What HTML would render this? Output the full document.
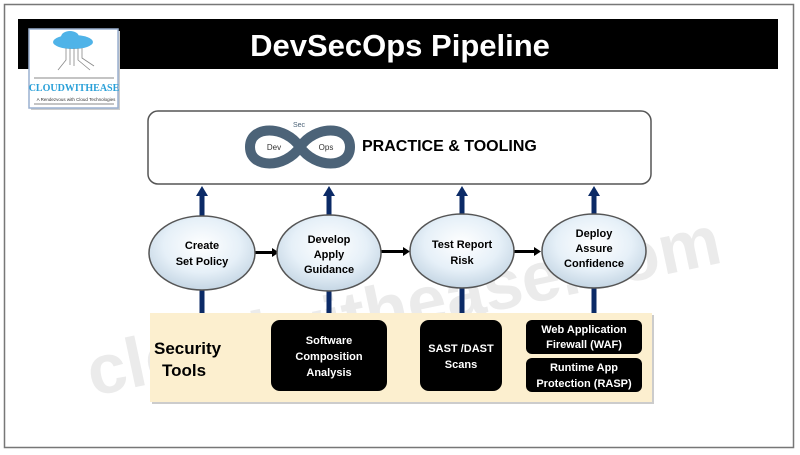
<!DOCTYPE html>
<html><head><meta charset="utf-8"><style>
html,body{margin:0;padding:0;background:#fff;}
svg{display:block;font-family:"Liberation Sans",sans-serif;}
</style></head><body>
<svg width="800" height="455" viewBox="0 0 800 455" xmlns="http://www.w3.org/2000/svg">
<defs>
<radialGradient id="eg" cx="50%" cy="40%" r="60%">
<stop offset="0" stop-color="#ffffff"/><stop offset="0.6" stop-color="#e6f0f8"/><stop offset="1" stop-color="#c5d6e4"/>
</radialGradient>
</defs>
<rect x="4.5" y="4.5" width="789" height="443" fill="#fff" stroke="#777" stroke-width="1.5"/>
<rect x="18" y="19" width="760" height="50" fill="#000"/>
<text x="400" y="56" text-anchor="middle" font-size="31" font-weight="bold" fill="#fff">DevSecOps Pipeline</text>
<!-- logo -->
<rect x="31" y="31" width="89" height="79" fill="#ccc"/>
<rect x="29" y="29" width="89" height="79" fill="#fff" stroke="#9ab0d0" stroke-width="1.5"/>
<ellipse cx="73" cy="42" rx="20" ry="7" fill="#4fb3e8"/>
<ellipse cx="70" cy="37" rx="9" ry="6" fill="#4fb3e8"/>
<g stroke="#888" stroke-width="0.8" fill="none">
<path d="M66 48 L66 60 L58 70 M70 48 L70 65 M74 48 L74 66 M78 48 L78 60 L90 70 M82 48 L82 58 L94 66"/>
</g>
<line x1="34" y1="78" x2="114" y2="78" stroke="#888"/>
<text x="74" y="91" text-anchor="middle" font-size="10" font-weight="bold" fill="#2aa0d8" font-family="Liberation Serif,serif">CLOUDWITHEASE</text>
<text x="76" y="101" text-anchor="middle" font-size="4.5" fill="#333">A Rendezvous with Cloud Technologies</text>
<line x1="34" y1="104" x2="114" y2="104" stroke="#888"/>
<!-- watermark -->
<text x="400" y="330" text-anchor="middle" font-size="70" font-weight="bold" fill="#ebebeb" transform="rotate(-12 400 290)">cloudwithease.com</text>
<!-- practice box -->
<rect x="148" y="111" width="503" height="73" rx="10" fill="#fff" stroke="#555" stroke-width="1.5"/>
<g fill="none" stroke="#4c6378" stroke-width="10">
<path d="M300 147 C285 125 250 125 250 147 C250 169 285 169 300 147 C315 125 350 125 350 147 C350 169 315 169 300 147"/>
</g>
<ellipse cx="274" cy="147" rx="14" ry="9" fill="#fff"/>
<ellipse cx="326" cy="147" rx="14" ry="9" fill="#fff"/>
<text x="274" y="150" text-anchor="middle" font-size="8" fill="#333">Dev</text>
<text x="326" y="150" text-anchor="middle" font-size="8" fill="#333">Ops</text>
<text x="299" y="127" text-anchor="middle" font-size="7" fill="#4c6378">Sec</text>
<text x="362" y="151" font-size="16" font-weight="bold" fill="#000">PRACTICE &amp; TOOLING</text>
<!-- band -->
<rect x="152" y="315" width="502" height="89" fill="#ccc"/>
<rect x="150" y="313" width="502" height="89" fill="#fcefcf"/>
<text x="154" y="354" font-size="17" font-weight="bold">Security</text>
<text x="162" y="376" font-size="17" font-weight="bold">Tools</text>
<!-- vertical arrows -->
<g fill="#0b2a66">
<rect x="199.5" y="195" width="5" height="118"/><polygon points="196,196 208,196 202,186"/>
<rect x="326.5" y="195" width="5" height="118"/><polygon points="323,196 335,196 329,186"/>
<rect x="459.5" y="195" width="5" height="118"/><polygon points="456,196 468,196 462,186"/>
<rect x="591.5" y="195" width="5" height="118"/><polygon points="588,196 600,196 594,186"/>
</g>
<!-- horizontal arrows -->
<g fill="#000">
<rect x="254" y="251" width="20" height="3"/><polygon points="272,248 279,252.5 272,257"/>
<rect x="381" y="250" width="24" height="3"/><polygon points="403,247 410,251.5 403,256"/>
<rect x="514" y="250" width="22" height="3"/><polygon points="534,247 541,251.5 534,256"/>
</g>
<!-- ellipses -->
<g stroke="#555" stroke-width="1.5" fill="url(#eg)">
<ellipse cx="202" cy="253" rx="53" ry="37"/>
<ellipse cx="329" cy="253" rx="52" ry="38"/>
<ellipse cx="462" cy="251" rx="52" ry="37"/>
<ellipse cx="594" cy="251" rx="52" ry="37"/>
</g>
<g font-size="11" font-weight="bold" text-anchor="middle" fill="#000">
<text x="202" y="249">Create</text><text x="202" y="265">Set Policy</text>
<text x="329" y="243">Develop</text><text x="329" y="258">Apply</text><text x="329" y="273">Guidance</text>
<text x="462" y="248">Test Report</text><text x="462" y="264">Risk</text>
<text x="594" y="237">Deploy</text><text x="594" y="252">Assure</text><text x="594" y="267">Confidence</text>
</g>
<!-- black boxes -->
<g fill="#000">
<rect x="271" y="320" width="116" height="71" rx="9"/>
<rect x="420" y="320" width="82" height="71" rx="9"/>
<rect x="526" y="320" width="116" height="34" rx="6"/>
<rect x="526" y="358" width="116" height="34" rx="6"/>
</g>
<g font-size="11" font-weight="bold" text-anchor="middle" fill="#fff">
<text x="329" y="344">Software</text><text x="329" y="360">Composition</text><text x="329" y="376">Analysis</text>
<text x="461" y="352">SAST /DAST</text><text x="461" y="368">Scans</text>
<text x="584" y="333">Web Application</text><text x="584" y="348">Firewall (WAF)</text>
<text x="584" y="371">Runtime App</text><text x="584" y="387">Protection (RASP)</text>
</g>
</svg>
</body></html>
